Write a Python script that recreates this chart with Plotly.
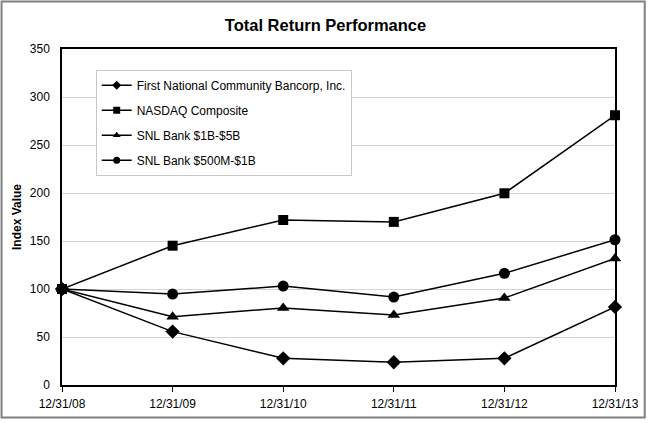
import plotly.graph_objects as go

dates = ["12/31/08", "12/31/09", "12/31/10", "12/31/11", "12/31/12", "12/31/13"]
fncb = [100, 55.6, 27.8, 23.7, 27.8, 81.3]
nasdaq = [100, 145.1, 171.9, 169.9, 199.7, 281.0]
snl_1b_5b = [100, 71.0, 80.3, 73.0, 90.6, 131.8]
snl_500m_1b = [100, 94.7, 103.0, 91.6, 116.3, 151.3]

series = [
    ("First National Community Bancorp, Inc.", fncb, "diamond", 11),
    ("NASDAQ Composite", nasdaq, "square", 10),
    ("SNL Bank $1B-$5B", snl_1b_5b, "triangle-up", 11),
    ("SNL Bank $500M-$1B", snl_500m_1b, "circle", 11),
]

W, H = 651, 423
ml, mr, mt, mb = 62, 31, 49, 34
pw, ph = W - ml - mr, H - mt - mb

fig = go.Figure()
xs = list(range(len(dates)))
for i, (name, vals, sym, sz) in enumerate(series):
    fig.add_trace(go.Scatter(
        x=xs, y=vals, name=name, mode="lines+markers",
        line=dict(color="black", width=1.5),
        marker=dict(symbol=sym, size=sz, color="black"),
        showlegend=False, cliponaxis=False,
    ))
for i, (name, vals, sym, sz) in enumerate(series):
    fig.add_trace(go.Scatter(
        x=[None], y=[None], name=name, mode="lines+markers",
        line=dict(color="black", width=1.5),
        marker=dict(symbol=sym, size=7, color="black"),
        legendgroup=f"g{i}",
    ))

fig.update_layout(
    autosize=True,
    margin=dict(l=ml, r=mr, t=mt, b=mb),
    paper_bgcolor="white", plot_bgcolor="white",
    font=dict(family="Liberation Sans, Arial, sans-serif", color="black", size=12),
    title=dict(text="<b>Total Return Performance</b>", x=0.5, xanchor="center",
               y=1 - 25 / H, yanchor="middle", font=dict(size=16.5)),
    showlegend=True,
    legend=dict(x=(96 - ml) / pw, y=(389 - 70) / ph, xanchor="left", yanchor="top",
                bgcolor="white", bordercolor="#c8c8c8", borderwidth=1,
                font=dict(size=12), traceorder="grouped", tracegroupgap=6,
                itemwidth=30),
    xaxis=dict(range=[0, 5], tickvals=xs, ticktext=dates, showgrid=False,
               ticks="outside", ticklen=5, tickcolor="black",
               showline=True, linecolor="black", linewidth=1.5, mirror=True,
               zeroline=False, tickfont=dict(size=12), ticklabelstandoff=2),
    yaxis=dict(range=[0, 350], dtick=50, showgrid=True, gridcolor="#d4d4d4",
               gridwidth=1, showline=True, linecolor="black", linewidth=1.5,
               mirror=True, zeroline=False, ticks="", tickfont=dict(size=12),
               ticklabelstandoff=8,
               title=dict(text="<b>Index Value</b>", font=dict(size=12), standoff=6)),
)

fig.add_shape(type="rect", xref="paper", yref="paper",
              x0=-(ml - 1) / pw, x1=1 + (mr - 1) / pw,
              y0=-(mb - 1) / ph, y1=1 + (mt - 1) / ph,
              line=dict(color="#808080", width=2), layer="below")

fig.write_html(
    "out.html",
    default_width="100vw", default_height="100vh",
    config={"displayModeBar": False, "responsive": True},
    post_script="document.body.style.margin='0';document.body.style.overflow='hidden';",
)
